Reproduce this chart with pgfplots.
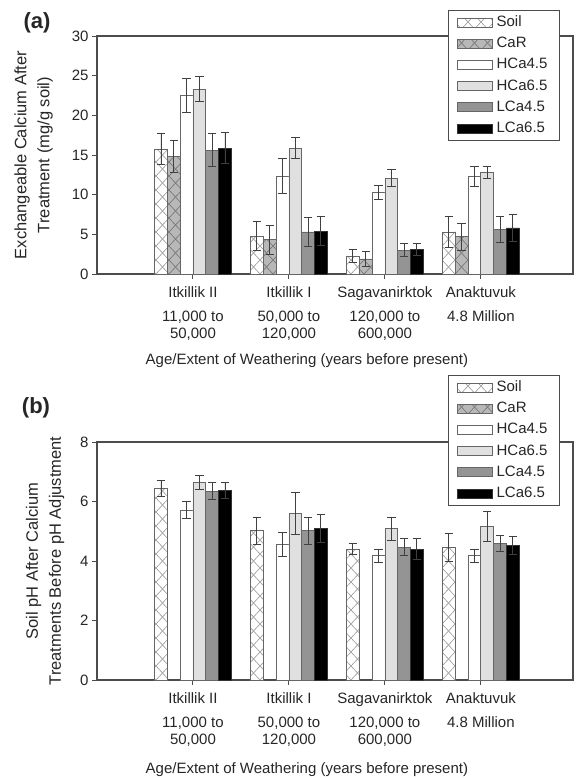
\documentclass[border=0pt]{standalone}
\usepackage{fontspec}
\setmainfont{Liberation Sans}
\usepackage{pgfplots}
\pgfplotsset{compat=1.18}
\usetikzlibrary{patterns}

% diagonal cross-hatch, one diamond per bar width
\pgfdeclarepatternformonly{diamonds}{\pgfpoint{-1pt}{-1pt}}{\pgfpoint{14pt}{15pt}}{\pgfpoint{13pt}{14pt}}{
  \pgfsetlinewidth{0.6pt}
  \pgfpathmoveto{\pgfpointorigin}\pgfpathlineto{\pgfpoint{13pt}{14pt}}
  \pgfpathmoveto{\pgfpoint{0pt}{14pt}}\pgfpathlineto{\pgfpoint{13pt}{0pt}}
  \pgfusepath{stroke}}

\pgfplotsset{
  soilfill/.style={draw=black!60, line width=0.8pt, fill=white, postaction={pattern=diamonds, pattern color=black!40}},
  carfill/.style={draw=black!60, line width=0.8pt, fill=black!28, postaction={pattern=diamonds, pattern color=black!55}},
  hfourfill/.style={draw=black!60, line width=0.8pt, fill=white},
  hsixfill/.style={draw=black!60, line width=0.8pt, fill=black!12},
  lfourfill/.style={draw=black!60, line width=0.8pt, fill=black!42},
  lsixfill/.style={draw=black!80, line width=0.8pt, fill=black},
  % bars sit at their own x (group centre +- k*bar width), so error bars line up
  bars/.style={ybar, bar width=0.1334, bar shift=0pt,
    error bars/.cd, y dir=both, y explicit,
    error bar style={black!75, line width=0.9pt},
    error mark options={rotate=90, black!75, line width=0.9pt, mark size=4.2pt}},
  panel/.style={
    scale only axis, width=476pt, height=238pt,
    xmin=0, xmax=4.96,
    xtick={1,2,3,4},
    xticklabels={{Itkillik II\\[8pt]11,000 to\\50,000},{Itkillik I\\[8pt]50,000 to\\120,000},{Sagavanirktok\\[8pt]120,000 to\\600,000},{Anaktuvuk\\[8pt]4.8 Million}},
    xticklabel style={align=center, yshift=-4pt, font=\fontsize{15}{16.5}\selectfont, text=black!85},
    yticklabel style={font=\fontsize{15}{16}\selectfont, text=black!85},
    /pgf/number format/assume math mode=true,
    tick align=outside, xtick pos=bottom, ytick pos=left,
    major tick length=5pt,
    tick style={black!70, line width=1pt},
    axis line style={black!70, line width=1.1pt},
    ylabel style={at={(axis description cs:#1,0.5)}, anchor=center, align=center, font=\fontsize{16.5}{23}\selectfont, text=black!85},
    xlabel={Age/Extent of Weathering (years before present)},
    xlabel style={at={(axis description cs:0.441,0)}, anchor=center, yshift=-87pt, font=\fontsize{15}{16}\selectfont, text=black!85},
    legend cell align=left,
    legend image code/.code={\draw[##1] (0pt,-4.5pt) rectangle (35pt,4.5pt);},
    legend style={draw=black!70, line width=1pt, fill=white, inner xsep=8pt, inner ysep=4pt,
      font=\fontsize{15}{16}\selectfont, text=black!85, row sep=5.2pt,
      nodes={inner xsep=4pt, inner ysep=1pt, text height=11pt, text depth=3pt}},
  },
}

\begin{document}
\begin{tikzpicture}
\useasboundingbox (0,0) rectangle (576pt,-778pt);

\node[font=\bfseries\fontsize{22}{22}\selectfont, text=black!85] at (37pt,-23pt) {(a)};
\node[font=\bfseries\fontsize{22}{22}\selectfont, text=black!85] at (36pt,-408pt) {(b)};

% (a) exchangeable calcium
\begin{axis}[panel=-0.133, at={(97pt,-274pt)}, anchor=south west,
  ymin=0, ymax=30, ytick={0,5,...,30},
  ylabel={Exchangeable Calcium After\\Treatment (mg/g soil)},
  legend style={at={(rel axis cs:0.9727,1.109)}, anchor=north east}]
\addplot[soilfill, bars] coordinates {(0.6665,15.76) +- (0,2.0) (1.6665,4.8) +- (0,1.8) (2.6665,2.27) +- (0,0.85) (3.6665,5.3) +- (0,1.9)};
\addlegendentry{Soil}
\addplot[carfill, bars] coordinates {(0.7999,14.8) +- (0,2.0) (1.7999,4.3) +- (0,1.8) (2.7999,1.9) +- (0,0.9) (3.7999,4.7) +- (0,1.7)};
\addlegendentry{CaR}
\addplot[hfourfill, bars] coordinates {(0.9333,22.5) +- (0,2.1) (1.9333,12.36) +- (0,2.2) (2.9333,10.3) +- (0,0.9) (3.9333,12.3) +- (0,1.3)};
\addlegendentry{HCa4.5}
\addplot[hsixfill, bars] coordinates {(1.0667,23.3) +- (0,1.6) (2.0667,15.85) +- (0,1.3) (3.0667,12.1) +- (0,1.1) (4.0667,12.8) +- (0,0.8)};
\addlegendentry{HCa6.5}
\addplot[lfourfill, bars] coordinates {(1.2001,15.6) +- (0,2.1) (2.2001,5.3) +- (0,1.8) (3.2001,3.0) +- (0,0.8) (4.2001,5.6) +- (0,1.6)};
\addlegendentry{LCa4.5}
\addplot[lsixfill, bars] coordinates {(1.3335,15.85) +- (0,1.95) (2.3335,5.4) +- (0,1.8) (3.3335,3.1) +- (0,0.8) (4.3335,5.8) +- (0,1.7)};
\addlegendentry{LCa6.5}
\end{axis}

% (b) soil pH
\begin{axis}[panel=-0.1092, at={(97pt,-680pt)}, anchor=south west,
  ymin=0, ymax=8, ytick={0,2,...,8},
  ylabel={Soil pH After Calcium\\Treatments Before pH Adjustment},
  xlabel style={yshift=-3pt},
  legend style={at={(rel axis cs:0.9727,1.2815)}, anchor=north east}]
\addplot[soilfill, bars] coordinates {(0.6665,6.44) +- (0,0.28) (1.6665,5.02) +- (0,0.46) (2.6665,4.40) +- (0,0.18) (3.6665,4.45) +- (0,0.48)};
\addlegendentry{Soil}
\addlegendimage{carfill}
\addlegendentry{CaR}
\addplot[hfourfill, bars] coordinates {(0.9333,5.71) +- (0,0.28) (1.9333,4.56) +- (0,0.41) (2.9333,4.18) +- (0,0.22) (3.9333,4.18) +- (0,0.22)};
\addlegendentry{HCa4.5}
\addplot[hsixfill, bars] coordinates {(1.0667,6.64) +- (0,0.22) (2.0667,5.6) +- (0,0.71) (3.0667,5.08) +- (0,0.4) (4.0667,5.17) +- (0,0.5)};
\addlegendentry{HCa6.5}
\addplot[lfourfill, bars] coordinates {(1.2001,6.35) +- (0,0.28) (2.2001,5.02) +- (0,0.45) (3.2001,4.47) +- (0,0.28) (4.2001,4.6) +- (0,0.27)};
\addlegendentry{LCa4.5}
\addplot[lsixfill, bars] coordinates {(1.3335,6.36) +- (0,0.27) (2.3335,5.1) +- (0,0.48) (3.3335,4.4) +- (0,0.35) (4.3335,4.52) +- (0,0.3)};
\addlegendentry{LCa6.5}
\end{axis}
\end{tikzpicture}
\end{document}
